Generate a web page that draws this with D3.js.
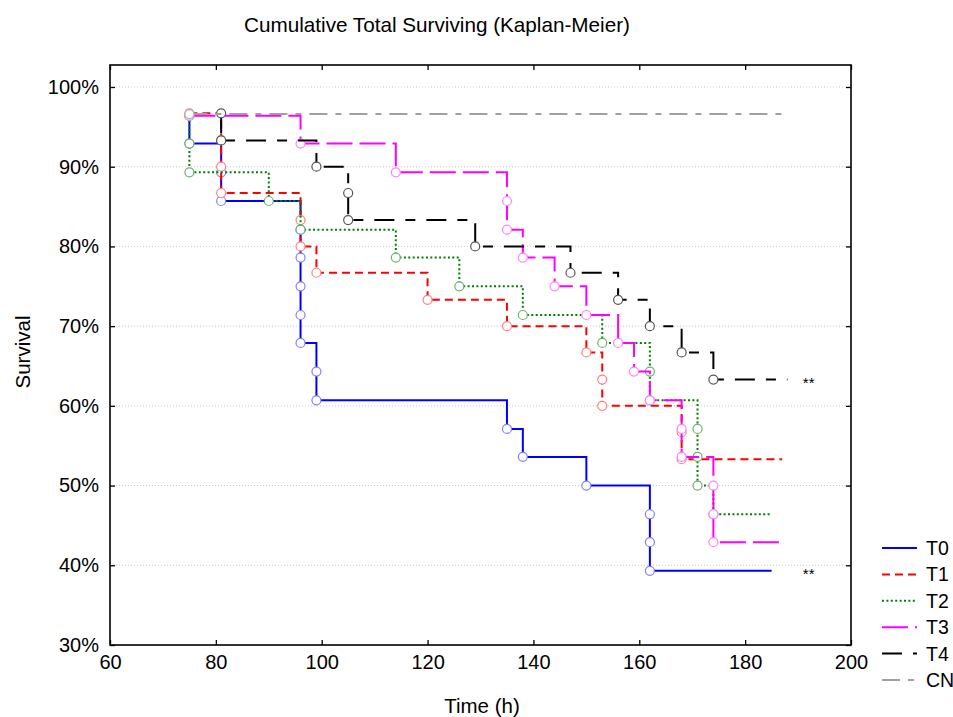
<!DOCTYPE html>
<html><head><meta charset="utf-8">
<script src="https://cdn.jsdelivr.net/npm/d3@7/dist/d3.min.js"></script>
<style>body{margin:0;background:#fff;} text{font-family:"Liberation Sans",Arial,sans-serif;fill:#000;}</style>
</head><body><svg id="c" width="953" height="717"></svg>
<script>
// ---------- data ----------
const seriesNames = ["T0","T1","T2","T3","T4","CN"];
const t0Time = [75,75,81,81,96,96,96,96,96,99,99,135,138,150,162,162,162];
const t0Surv = [96.4,92.9,89.3,85.7,82.1,78.6,75.0,71.4,67.9,64.3,60.7,57.1,53.6,50.0,46.4,42.9,39.3];
const t1Time = [75,81,81,81,96,96,99,120,135,150,153,153,168,168];
const t1Surv = [96.7,93.3,90.0,86.7,83.3,80.0,76.7,73.3,70.0,66.7,63.3,60.0,56.7,53.3];
const t2Time = [75,75,75,90,96,114,126,138,153,162,162,171,171,171,174];
const t2Surv = [96.4,92.9,89.3,85.7,82.1,78.6,75.0,71.4,67.9,64.3,60.7,57.1,53.6,50.0,46.4];
const t3Time = [75,96,114,135,135,138,144,150,156,159,162,168,168,174,174,174];
const t3Surv = [96.4,92.9,89.3,85.7,82.1,78.6,75.0,71.4,67.9,64.3,60.7,57.1,53.6,50.0,46.4,42.9];
const t4Time = [81,81,99,105,105,129,147,156,162,168,174];
const t4Surv = [96.7,93.3,90.0,86.7,83.3,80.0,76.7,73.3,70.0,66.7,63.3];
const cnTime = [75];
const cnSurv = [96.6];
const endTimes = [185,187,185,187,188,187];
const xTicks = [60,80,100,120,140,160,180,200];
const yTicks = [30,40,50,60,70,80,90,100];
const gridTicks = [40,50,60,70,80,90,100];
const signifLabels = [{name:"T4", text:"**"},{name:"T0", text:"**"}];

// ---------- styling ----------
const colors = ["#0000ff","#ff0000","#008000","#ff00ff","#000000","#a0a0a0"];
const circleColors = ["#8080ff","#ff8080","#70b070","#ff80ff","#555555","#b0b0b0"];
const dashes = [null,"8,5","2,2.4","26,7","20,11,10,11","18,8,6,8"];
const times = [t0Time,t1Time,t2Time,t3Time,t4Time,cnTime];
const survs = [t0Surv,t1Surv,t2Surv,t3Surv,t4Surv,cnSurv];

const m={left:110,right:851,top:65,bottom:645};
const svg=d3.select("#c");
const x=d3.scaleLinear().domain([60,200]).range([m.left,m.right]);
const y=d3.scaleLinear().domain([30,102.76]).range([m.bottom,m.top]);

// grid
svg.append("g").selectAll("line").data(gridTicks).join("line")
  .attr("x1",m.left).attr("x2",m.right)
  .attr("y1",d=>y(d)).attr("y2",d=>y(d))
  .attr("stroke","#c8c8c8").attr("stroke-width",1).attr("stroke-dasharray","1,2");

// axes
const fs=20;
const gL=svg.append("g").attr("transform",`translate(${m.left},0)`)
  .call(d3.axisLeft(y).tickValues(yTicks).tickSize(-5).tickPadding(11).tickFormat(d=>d+"%"));
const gB=svg.append("g").attr("transform",`translate(0,${m.bottom})`)
  .call(d3.axisBottom(x).tickValues(xTicks).tickSize(-5).tickPadding(10));
const gT=svg.append("g").attr("transform",`translate(0,${m.top})`)
  .call(d3.axisTop(x).tickValues(xTicks).tickSize(-5).tickFormat(""));
const gR=svg.append("g").attr("transform",`translate(${m.right},0)`)
  .call(d3.axisRight(y).tickValues(yTicks).tickSize(-5).tickFormat(""));
[gL,gB,gT,gR].forEach(g=>{
  g.select(".domain").remove();
  g.selectAll("line").attr("stroke","#000").attr("stroke-width",1.3);
  g.selectAll("text").attr("font-size",fs).attr("font-family","Liberation Sans, Arial, sans-serif");
});
svg.append("rect").attr("x",m.left).attr("y",m.top).attr("width",m.right-m.left).attr("height",m.bottom-m.top)
  .attr("fill","none").attr("stroke","#000").attr("stroke-width",1.6);

// series
const line=d3.line().x(d=>x(d.t)).y(d=>y(d.s)).curve(d3.curveStepAfter);
const ends={};
seriesNames.forEach((name,i)=>{
  const pts=times[i].map((t,j)=>({t,s:survs[i][j]}));
  const all=pts.concat([{t:endTimes[i],s:pts[pts.length-1].s}]);
  ends[name]=all[all.length-1];
  const g=svg.append("g");
  g.append("path").attr("d",line(all)).attr("fill","none")
    .attr("stroke",colors[i]).attr("stroke-width",2)
    .attr("stroke-dasharray",dashes[i]);
  g.selectAll("circle").data(pts).join("circle")
    .attr("cx",d=>x(d.t)).attr("cy",d=>y(d.s)).attr("r",4.5)
    .attr("fill","#fff").attr("stroke",circleColors[i]).attr("stroke-width",1.2);
});

// significance marks
signifLabels.forEach(s=>{
  svg.append("text").attr("x",x(192)).attr("y",y(ends[s.name].s)+8)
    .attr("text-anchor","middle").attr("font-size",15).text(s.text);
});

// titles
svg.append("text").attr("x",437).attr("y",32).attr("text-anchor","middle").attr("font-size",20.7)
  .text("Cumulative Total Surviving (Kaplan-Meier)");
svg.append("text").attr("x",482).attr("y",713).attr("text-anchor","middle").attr("font-size",20.5).text("Time (h)");
svg.append("text").attr("transform","translate(30,352) rotate(-90)").attr("text-anchor","middle").attr("font-size",20.5).text("Survival");

// legend
const lg=svg.append("g");
seriesNames.forEach((name,i)=>{
  const ly=548+i*26.4;
  lg.append("line").attr("x1",882).attr("x2",917).attr("y1",ly).attr("y2",ly)
    .attr("stroke",colors[i]).attr("stroke-width",2).attr("stroke-dasharray",dashes[i]);
  lg.append("text").attr("x",926).attr("y",ly+7).attr("font-size",19.5).text(name);
});
</script></body></html>
